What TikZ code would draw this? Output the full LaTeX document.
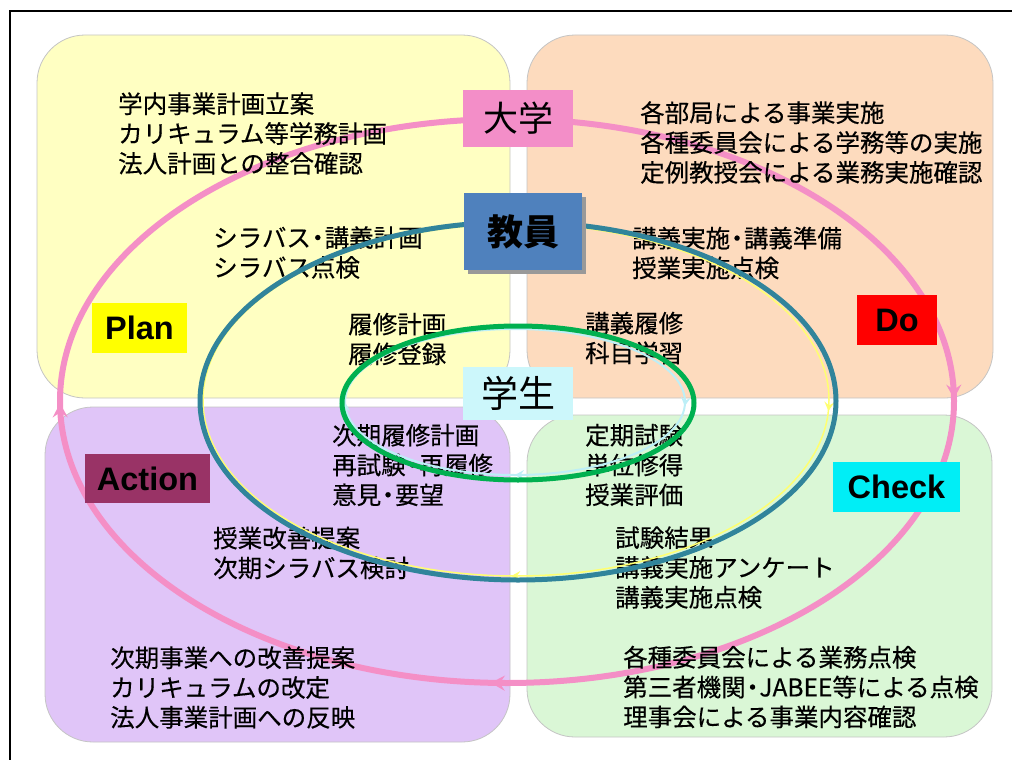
\documentclass[tikz,border=0pt]{standalone}
\usepackage{fontspec}
\setmainfont{Liberation Sans}
\newfontfamily\jp[FakeBold=0.4]{Noto Sans CJK JP}
\newfontfamily\jpr{Noto Sans CJK JP}
\usetikzlibrary{arrows.meta,decorations.markings}
\newcommand{\nd}{\kern-0.22em・\kern-0.22em}

\definecolor{planbg}{HTML}{FFFFC2}
\definecolor{dobg}{HTML}{FDDBBE}
\definecolor{actbg}{HTML}{E0C5F8}
\definecolor{chkbg}{HTML}{DAF7D6}
\definecolor{boxline}{HTML}{C4C4C4}
\definecolor{pinkline}{HTML}{F48FC6}
\definecolor{tealline}{HTML}{31849B}
\definecolor{greenline}{HTML}{00B050}
\definecolor{univ}{HTML}{F38EC8}
\definecolor{fac}{HTML}{4F81BD}
\definecolor{stu}{HTML}{CCF7FB}
\definecolor{planlab}{HTML}{FFFF00}
\definecolor{dolab}{HTML}{FF0000}
\definecolor{actlab}{HTML}{993366}
\definecolor{chklab}{HTML}{00EEF6}
\definecolor{thinyellow}{HTML}{FFFF70}
\definecolor{thincyan}{HTML}{BDEFF7}

\begin{document}
\begin{tikzpicture}[x=1pt,y=-1pt,
  quad/.style={draw=boxline, line width=0.8, rounded corners=48, inner sep=0},
  txt/.style={anchor=west, inner sep=0, align=left, font=\jp\fontsize{24.5}{29.8}\selectfont},
  pdca/.style={inner sep=0, font=\fontsize{32.5}{36}\selectfont\bfseries},
  role/.style={inner sep=0, font=\jpr\fontsize{35}{40}\selectfont},
  bigtip/.tip={Stealth[length=14pt,width=15pt,inset=5pt]},
  smalltip/.tip={Stealth[length=9pt,width=10pt,inset=3.5pt]}
]
\useasboundingbox (0,0) rectangle (1012,760);

% frame
\draw[line width=2] (1014,11) -- (10,11) -- (10,762);

% quadrants
\node[quad, fill=planbg, minimum width=473, minimum height=363] (planq) at (273.5,216.5) {};
\node[quad, fill=dobg,   minimum width=466, minimum height=363] (doq)   at (760,216.5) {};
\node[quad, fill=actbg,  minimum width=465, minimum height=335] (actq)  at (277.5,574.5) {};
\node[quad, fill=chkbg,  minimum width=465, minimum height=322] (chkq)  at (759.5,576) {};

% pink cycle (university)
\draw[pinkline, line width=6, postaction=decorate,
  decoration={markings,
    mark=at position 0.249 with {\arrow{bigtip}},
    mark=at position 0.507 with {\arrow{bigtip}},
    mark=at position 0.749 with {\arrow{bigtip}}}]
  (507,119) arc[start angle=-90, end angle=270, x radius=447, y radius=282];

% texts
\node[txt] (t1) at (118,133.5) {学内事業計画立案\\カリキュラム等学務計画\\法人計画との整合確認};
\node[txt] (t2) at (213,252.5) {シラバス\nd 講義計画\\シラバス点検};
\node[txt] (t3) at (348,339) {履修計画\\履修登録};
\node[txt] (t4) at (640,142.5) {各部局による事業実施\\各種委員会による学務等の実施\\定例教授会による業務実施確認};
\node[txt] (t5) at (632,253) {講義実施\nd 講義準備\\授業実施点検};
\node[txt] (t6) at (585,338) {講義履修\\科目学習};
\node[txt] (t7) at (332,465) {次期履修計画\\再試験\nd 再履修\\意見\nd 要望};
\node[txt] (t8) at (213,553) {授業改善提案\\次期シラバス検討};
\node[txt] (t9) at (110,687.5) {次期事業への改善提案\\カリキュラムの改定\\法人事業計画への反映};
\node[txt] (t10) at (585,465) {定期試験\\単位修得\\授業評価};
\node[txt] (t11) at (615,567.5) {試験結果\\講義実施アンケート\\講義実施点検};
\node[txt] (t12) at (623,687) {各種委員会による業務点検\\第三者機関\nd JABEE等による点検\\理事会による事業内容確認};

% yellow thin cycle (faculty)
\draw[thinyellow, line width=1.5, postaction=decorate,
  decoration={markings,
    mark=at position 0.257 with {\arrow{smalltip}},
    mark=at position 0.503 with {\arrow{smalltip}}}]
  (516,224) arc[start angle=-90, end angle=270, x radius=313, y radius=176];
% teal ellipse
\draw[tealline, line width=5] (518,401) ellipse[x radius=318, y radius=179];

% cyan thin cycle (students)
\draw[thincyan, line width=2, postaction=decorate,
  decoration={markings,
    mark=at position 0.255 with {\arrow{smalltip}},
    mark=at position 0.5 with {\arrow{smalltip}},
    mark=at position 0.75 with {\arrow{smalltip}}}]
  (515,329) arc[start angle=-90, end angle=270, x radius=170, y radius=73];
% green ellipse
\draw[greenline, line width=5] (518,403) ellipse[x radius=176, y radius=77];

% role labels
\node[role, fill=univ, minimum width=110, minimum height=57] (univ) at (518,118.5) {大学};
\node[fill=black!40, inner sep=0, minimum width=118, minimum height=77] (facsh) at (527,235.5) {};
\node[role, fill=fac, minimum width=118, minimum height=77, font=\jpr\bfseries\fontsize{36}{40}\selectfont] (fac) at (523,231.5) {教員};
\node[role, fill=stu, minimum width=110, minimum height=53, font=\jpr\fontsize{37}{40}\selectfont] (stu) at (518,393.5) {学生};

% PDCA labels
\node[pdca, fill=planlab, minimum width=95, minimum height=50] (plan) at (139.5,328) {Plan};
\node[pdca, fill=dolab, minimum width=80, minimum height=50] (do) at (897,320) {Do};
\node[pdca, fill=actlab, minimum width=125, minimum height=49] (act) at (147.5,478.5) {Action};
\node[pdca, fill=chklab, minimum width=127, minimum height=50] (chk) at (896.5,487) {Check};
\end{tikzpicture}
\end{document}
